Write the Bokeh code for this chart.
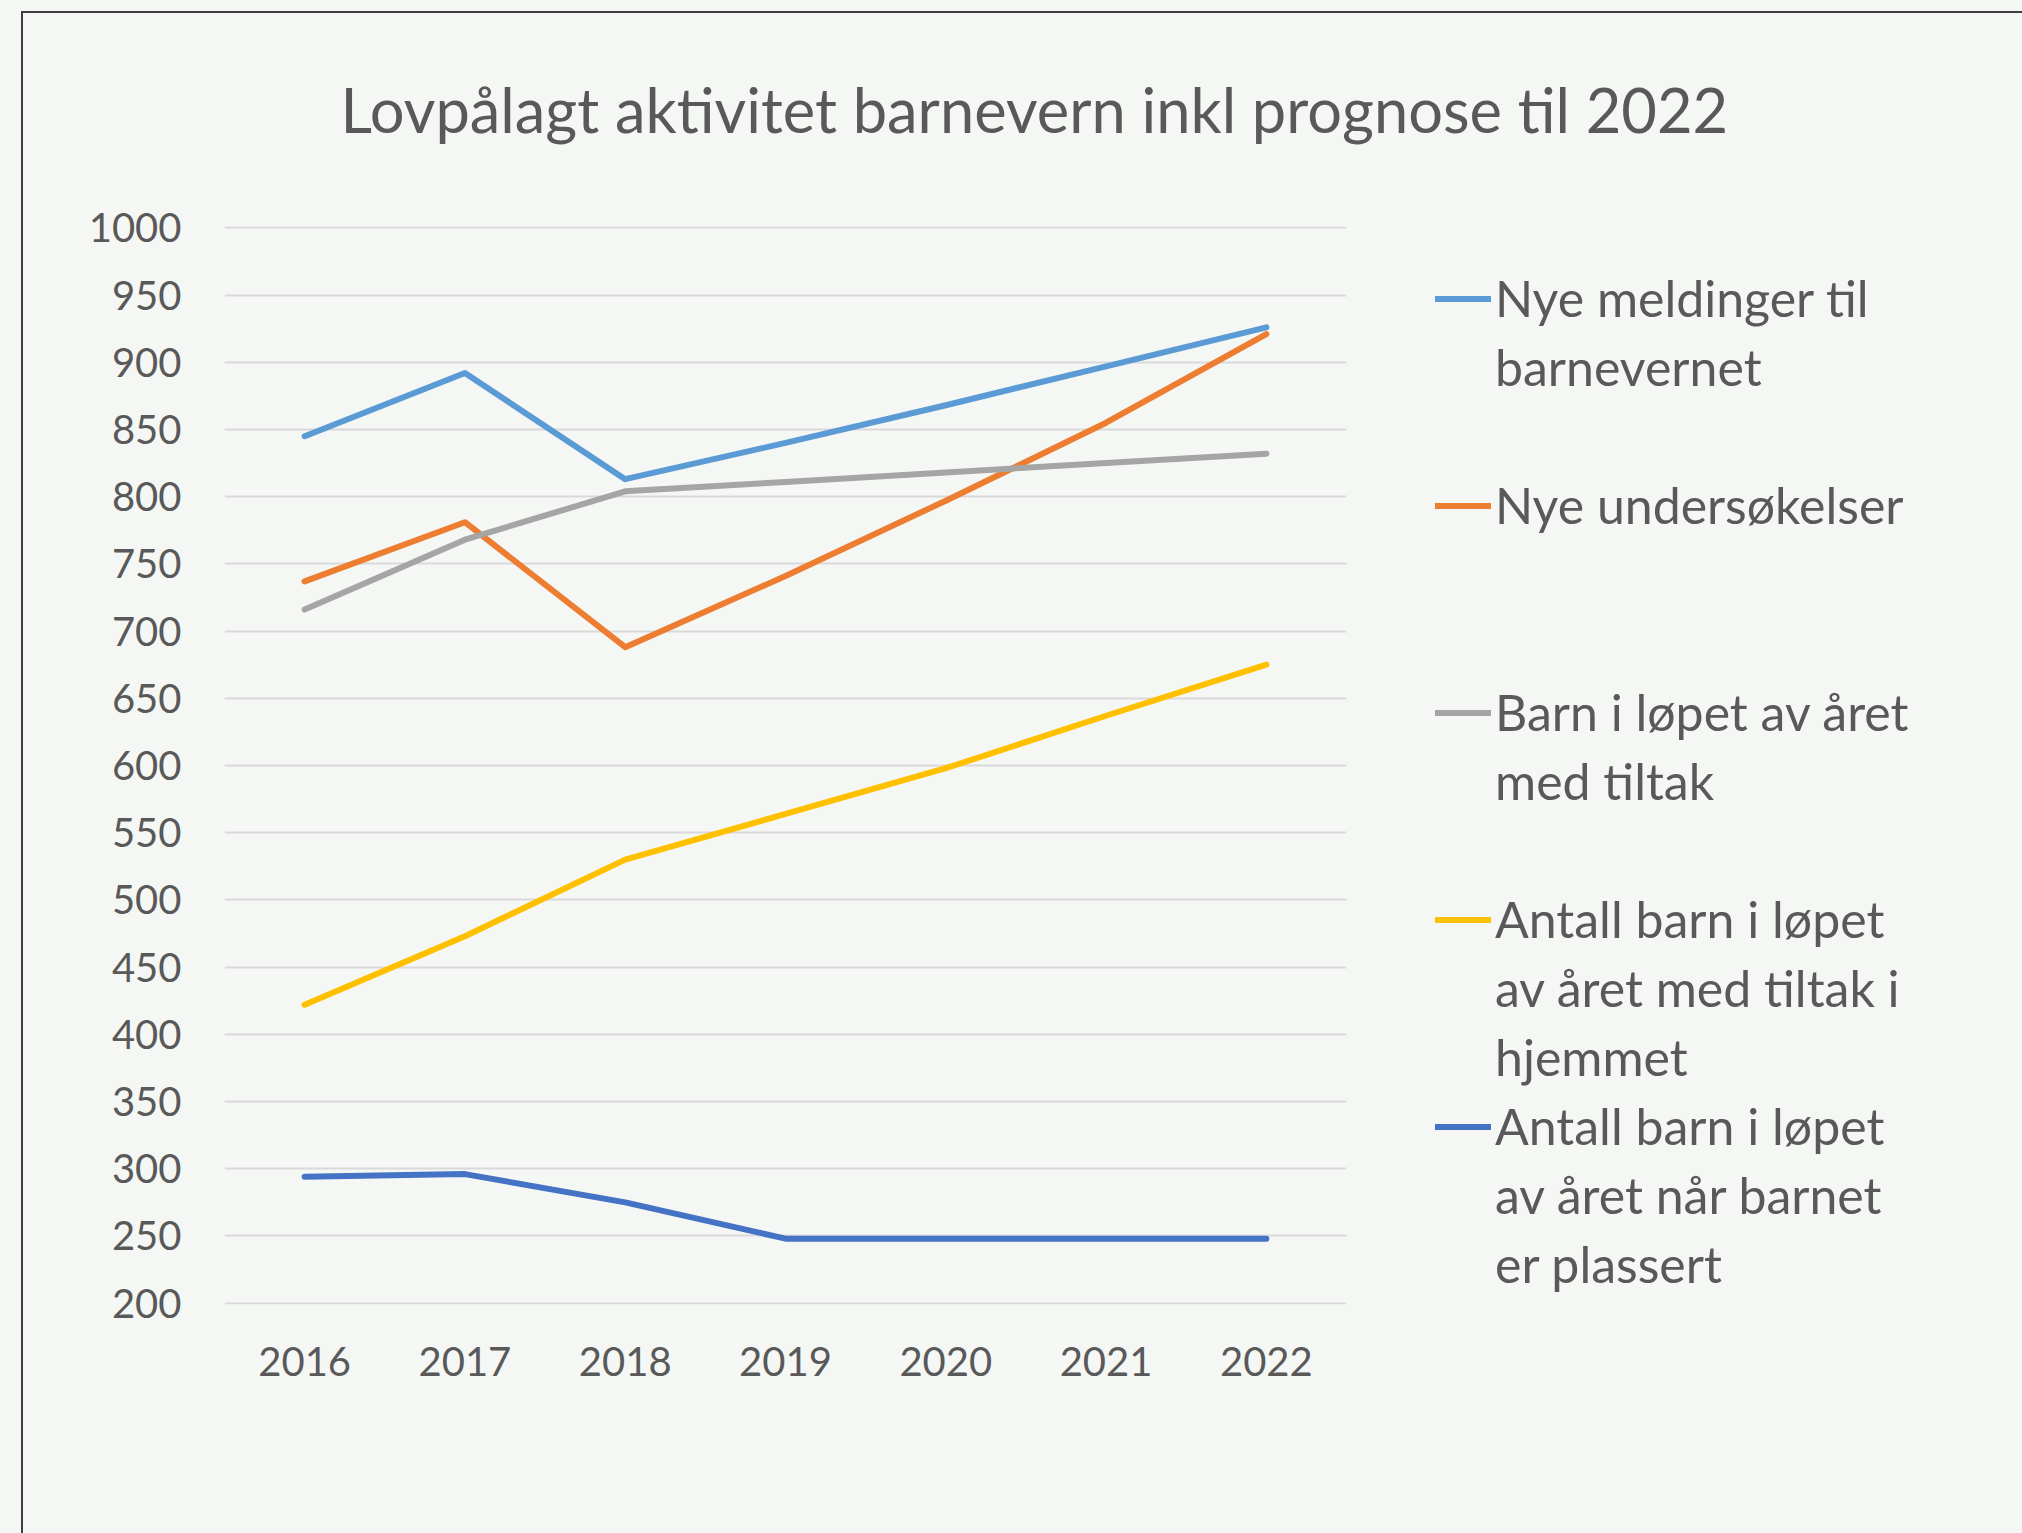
from bokeh.plotting import figure
from bokeh.models import (Range1d, Legend, LegendItem, Title, FixedTicker,
                          GlobalInlineStyleSheet)
from bokeh.core.properties import value
from bokeh.embed import file_html
from bokeh.resources import INLINE

# ---------------- data ----------------
title_text = "Lovpålagt aktivitet barnevern inkl prognose til 2022"
years = ["2016", "2017", "2018", "2019", "2020", "2021", "2022"]
y_ticks = [200, 250, 300, 350, 400, 450, 500, 550, 600, 650, 700, 750, 800, 850, 900, 950, 1000]

nye_meldinger = [845, 892, 813, 840, 868, 897, 926]
nye_undersokelser = [737, 781, 688, 741, 797, 855, 921]
barn_med_tiltak = [716, 768, 804, 811, 818, 825, 832]
tiltak_i_hjemmet = [422, 473, 530, 564, 598, 637, 675]
barnet_plassert = [294, 296, 275, 248, 248, 248, 248]

labels = [
    ["Nye meldinger til", "barnevernet"],
    ["Nye undersøkelser"],
    ["Barn i løpet av året", "med tiltak"],
    ["Antall barn i løpet", "av året med tiltak i", "hjemmet"],
    ["Antall barn i løpet", "av året når barnet", "er plassert"],
]
series = [nye_meldinger, nye_undersokelser, barn_med_tiltak, tiltak_i_hjemmet, barnet_plassert]
colors = ["#5B9BD5", "#ED7D31", "#A5A5A5", "#FFC000", "#4472C4"]

# ---------------- style ----------------
FONT = "Lato"
TEXT = "#595959"
BG = "#F5F7F4"
GRID = "#D9D9D9"

PX_PER_UNIT = 1075 / 800.0
PAD_UNITS = 1.0
pad_px = PAD_UNITS * PX_PER_UNIT
FRAME_L, FRAME_W = 224, 1122
FRAME_T = int(round(227 - pad_px))
FRAME_H = int(round(1075 + 2 * pad_px))
TOTAL_W, TOTAL_H = 2022, 1533

p = figure(
    x_range=years, y_range=Range1d(200 - PAD_UNITS, 1000 + PAD_UNITS),
    frame_width=FRAME_W, frame_height=FRAME_H,
    min_border_left=FRAME_L, min_border_right=TOTAL_W - FRAME_L - FRAME_W,
    min_border_top=FRAME_T, min_border_bottom=TOTAL_H - FRAME_T - FRAME_H,
    output_backend="svg", toolbar_location=None,
    background_fill_color=BG, border_fill_color=BG,
    outline_line_color=None,
)
p.x_range.range_padding = 0

p.yaxis.ticker = FixedTicker(ticks=y_ticks)
for ax in (p.xaxis[0], p.yaxis[0]):
    ax.axis_line_color = None
    ax.major_tick_line_color = None
    ax.minor_tick_line_color = None
    ax.major_tick_out = 0
    ax.major_tick_in = 0
    ax.major_label_text_font = FONT
    ax.major_label_text_font_size = "40px"
    ax.major_label_text_color = TEXT
p.yaxis.major_label_standoff = 43
p.xaxis.major_label_standoff = 42

p.xgrid.grid_line_color = None
p.ygrid.grid_line_color = GRID
p.ygrid.grid_line_width = 2

renderers = []
for vals, col in zip(series, colors):
    r = p.line(years, vals, line_color=col, line_width=6,
               line_cap="round", line_join="round")
    renderers.append(r)

# empty, invisible renderer that carries the continuation lines of the legend
blank = p.line(x=[], y=[], line_alpha=0)

# Legend: one single-line row per text line; each entry takes 3 rows so the
# entries are evenly spaced like the original.
ROW_H = 69
ROWS_PER_ENTRY = 3
items = []
for k, (lines, r) in enumerate(zip(labels, renderers)):
    items.append(LegendItem(label=value(lines[0]), renderers=[r]))
    for extra in lines[1:]:
        items.append(LegendItem(label=value(extra), renderers=[blank]))
    if k < len(labels) - 1:
        for _ in range(ROWS_PER_ENTRY - len(lines)):
            items.append(LegendItem(label=value(" "), renderers=[blank]))

frame_bottom_page = FRAME_T + FRAME_H
legend_top_page = 298 - ROW_H / 2
legend_h = len(items) * ROW_H
leg = Legend(
    items=items,
    location=(1435 - (FRAME_L + FRAME_W), frame_bottom_page - (legend_top_page + legend_h)),
    padding=0, margin=0, spacing=0,
    border_line_color=None, background_fill_alpha=0,
    glyph_width=56, glyph_height=ROW_H, label_standoff=4,
    label_text_font=FONT, label_text_font_size="50px",
    label_text_color=TEXT, label_height=ROW_H,
)
p.add_layout(leg, "right")

# title: an empty spacer panel next to the frame lifts the title without
# making the top border taller than the original's
p.title = None
spacer = Title(text=" ", text_font_size="10px", standoff=68, vertical_align="bottom")
p.add_layout(spacer, "above")
title = Title(
    text=title_text, align="left", offset=116, standoff=0,
    vertical_align="bottom",
    text_font=FONT, text_font_size="61.4px", text_color=TEXT,
    text_font_style="normal",
)
p.add_layout(title, "above")

# chart-area border (top and left edges; the others lie outside the window)
p.stylesheets = [GlobalInlineStyleSheet(css=(
    "body { background: %s; }"
    "body::after { content: ''; position: fixed; left: 21px; top: 11px;"
    " right: -20px; bottom: -20px; border-left: 2px solid #404040;"
    " border-top: 2px solid #404040; pointer-events: none; z-index: 1000; }" % BG
))]

open("out.html", "w").write(file_html(p, INLINE))
